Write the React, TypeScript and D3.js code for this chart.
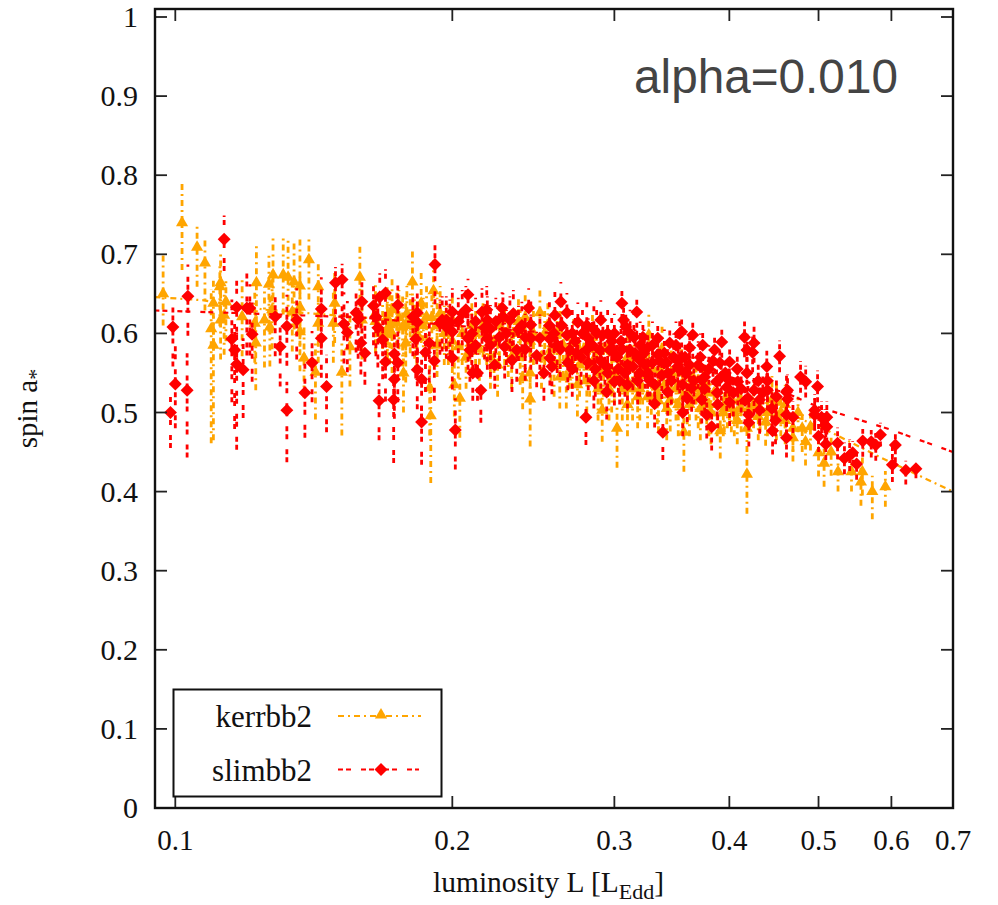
import React from "react";
import * as d3 from "d3";

const xTicks = [0.1, 0.2, 0.3, 0.4, 0.5, 0.6, 0.7];
const yTicks = [0, 0.1, 0.2, 0.3, 0.4, 0.5, 0.6, 0.7, 0.8, 0.9, 1];
const yTickText = ["0", "0.1", "0.2", "0.3", "0.4", "0.5", "0.6", "0.7", "0.8", "0.9", "1"];

// trend lines [L, a]
const kerrTrend = [[0.0949, 0.646], [0.107, 0.642], [0.125, 0.63], [0.16, 0.62], [0.2, 0.61], [0.25, 0.595], [0.3, 0.57], [0.36, 0.545], [0.42, 0.52], [0.51, 0.478], [0.582, 0.444], [0.7, 0.4]];
const slimTrend = [[0.0949, 0.629], [0.115, 0.626], [0.16, 0.62], [0.2, 0.61], [0.26, 0.6], [0.32, 0.575], [0.4, 0.545], [0.46, 0.525], [0.5, 0.507], [0.6, 0.478], [0.7, 0.45]];

// [L, a, errLow, errHigh]
const kerrLeft = [
  [0.097, 0.65, 0.04, 0.05], [0.1017, 0.74, 0.06, 0.05], [0.1056, 0.709, 0.05, 0.03], [0.1077, 0.689, 0.06, 0.03],
  [0.1094, 0.606, 0.145, 0.05], [0.11, 0.585, 0.12, 0.04], [0.112, 0.664, 0.04, 0.04], [0.1118, 0.659, 0.05, 0.03],
  [0.11, 0.638, 0.06, 0.03], [0.1135, 0.64, 0.05, 0.03], [0.112, 0.617, 0.05, 0.04], [0.113, 0.623, 0.05, 0.03],
  [0.1225, 0.664, 0.05, 0.05], [0.1264, 0.662, 0.06, 0.04], [0.1277, 0.674, 0.05, 0.05], [0.131, 0.674, 0.05, 0.05],
  [0.1326, 0.671, 0.05, 0.05], [0.1346, 0.665, 0.06, 0.05], [0.1366, 0.66, 0.05, 0.06], [0.1397, 0.693, 0.05, 0.03],
  [0.143, 0.659, 0.04, 0.03], [0.1182, 0.621, 0.05, 0.05], [0.122, 0.613, 0.05, 0.04], [0.1223, 0.588, 0.06, 0.04],
  [0.125, 0.617, 0.06, 0.04], [0.1267, 0.608, 0.05, 0.04], [0.1274, 0.63, 0.05, 0.04], [0.1366, 0.633, 0.05, 0.04],
  [0.134, 0.627, 0.05, 0.04], [0.1366, 0.602, 0.05, 0.04], [0.138, 0.569, 0.05, 0.04], [0.142, 0.551, 0.06, 0.04],
  [0.143, 0.613, 0.05, 0.03], [0.149, 0.638, 0.05, 0.04], [0.1485, 0.613, 0.05, 0.04], [0.1587, 0.671, 0.05, 0.04],
  [0.1517, 0.551, 0.08, 0.04], [0.1548, 0.583, 0.05, 0.04], [0.181, 0.665, 0.05, 0.04], [0.1908, 0.654, 0.05, 0.04],
  [0.185, 0.638, 0.05, 0.04], [0.189, 0.531, 0.06, 0.04], [0.1895, 0.496, 0.085, 0.04], [0.178, 0.588, 0.05, 0.04],
  [0.177, 0.55, 0.05, 0.04], [0.1875, 0.621, 0.05, 0.04], [0.171, 0.611, 0.05, 0.04], [0.174, 0.613, 0.05, 0.04],
  [0.1766, 0.608, 0.05, 0.04], [0.172, 0.63, 0.05, 0.04], [0.172, 0.6, 0.05, 0.04], [0.1595, 0.617, 0.05, 0.04],
  [0.165, 0.625, 0.04, 0.04], [0.168, 0.6, 0.04, 0.04], [0.1699, 0.62, 0.05, 0.04], [0.1785, 0.625, 0.04, 0.035],
  [0.182, 0.608, 0.04, 0.035], [0.1925, 0.61, 0.04, 0.035], [0.196, 0.6, 0.04, 0.035], [0.1925, 0.585, 0.04, 0.035],
  [0.165, 0.615, 0.04, 0.035], [0.17, 0.605, 0.04, 0.035], [0.175, 0.62, 0.04, 0.035], [0.178, 0.61, 0.04, 0.035],
  [0.18, 0.615, 0.04, 0.035], [0.183, 0.6, 0.04, 0.035], [0.186, 0.61, 0.04, 0.035], [0.19, 0.62, 0.04, 0.035],
  [0.194, 0.625, 0.04, 0.035], [0.198, 0.6, 0.04, 0.035],
];
const kerrMiddle = [
  [0.2, 0.617, 0.04, 0.03], [0.2038, 0.518, 0.05, 0.03], [0.201, 0.535, 0.04, 0.03], [0.203, 0.583, 0.04, 0.03],
  [0.205, 0.6, 0.04, 0.03], [0.21, 0.61, 0.04, 0.03], [0.214, 0.58, 0.04, 0.03], [0.218, 0.6, 0.04, 0.03],
  [0.222, 0.59, 0.04, 0.03], [0.225, 0.61, 0.04, 0.03], [0.23, 0.585, 0.04, 0.03], [0.233, 0.6, 0.04, 0.03],
  [0.237, 0.575, 0.04, 0.03], [0.237, 0.6, 0.035, 0.03], [0.243, 0.517, 0.06, 0.03], [0.243, 0.55, 0.04, 0.03],
  [0.2385, 0.544, 0.04, 0.03], [0.243, 0.59, 0.04, 0.03], [0.249, 0.626, 0.04, 0.03], [0.252, 0.6, 0.04, 0.03],
  [0.256, 0.58, 0.04, 0.03], [0.26, 0.6, 0.04, 0.03], [0.2617, 0.545, 0.04, 0.03], [0.264, 0.585, 0.04, 0.03],
  [0.268, 0.57, 0.04, 0.03], [0.271, 0.59, 0.04, 0.03], [0.2735, 0.535, 0.04, 0.03], [0.278, 0.58, 0.04, 0.03],
  [0.282, 0.56, 0.04, 0.03], [0.286, 0.57, 0.04, 0.03], [0.291, 0.503, 0.04, 0.03], [0.29, 0.55, 0.04, 0.03],
  [0.295, 0.58, 0.04, 0.03], [0.298, 0.54, 0.04, 0.03], [0.302, 0.48, 0.05, 0.03], [0.304, 0.56, 0.04, 0.03],
  [0.31, 0.51, 0.04, 0.03], [0.31, 0.54, 0.04, 0.03], [0.315, 0.57, 0.04, 0.03], [0.3197, 0.53, 0.04, 0.03],
  [0.322, 0.55, 0.04, 0.03], [0.327, 0.598, 0.03, 0.03], [0.329, 0.537, 0.04, 0.03], [0.334, 0.525, 0.04, 0.03],
  [0.336, 0.555, 0.04, 0.03], [0.34, 0.535, 0.03, 0.03], [0.345, 0.516, 0.04, 0.03], [0.35, 0.53, 0.04, 0.03],
  [0.355, 0.55, 0.035, 0.03], [0.357, 0.475, 0.05, 0.03], [0.36, 0.525, 0.04, 0.03], [0.365, 0.545, 0.03, 0.03],
  [0.37, 0.52, 0.04, 0.03], [0.375, 0.535, 0.03, 0.03], [0.38, 0.51, 0.04, 0.03], [0.385, 0.525, 0.03, 0.03],
  [0.2, 0.59, 0.04, 0.03], [0.207, 0.57, 0.04, 0.03], [0.21, 0.59, 0.04, 0.03], [0.212, 0.6, 0.04, 0.03],
  [0.216, 0.61, 0.04, 0.03], [0.22, 0.57, 0.04, 0.03], [0.224, 0.56, 0.04, 0.03], [0.228, 0.6, 0.04, 0.03],
  [0.232, 0.57, 0.04, 0.03], [0.236, 0.615, 0.04, 0.03], [0.24, 0.62, 0.04, 0.03], [0.245, 0.6, 0.04, 0.03],
  [0.25, 0.57, 0.04, 0.03], [0.254, 0.61, 0.04, 0.03], [0.258, 0.56, 0.04, 0.03], [0.262, 0.6, 0.04, 0.03],
  [0.266, 0.545, 0.04, 0.03], [0.27, 0.57, 0.04, 0.03], [0.275, 0.56, 0.04, 0.03], [0.28, 0.54, 0.04, 0.03],
  [0.284, 0.595, 0.04, 0.03], [0.288, 0.53, 0.04, 0.03], [0.292, 0.56, 0.04, 0.03], [0.296, 0.53, 0.04, 0.03],
  [0.3, 0.55, 0.04, 0.03], [0.306, 0.53, 0.04, 0.03], [0.31, 0.57, 0.04, 0.03], [0.314, 0.53, 0.04, 0.03],
  [0.318, 0.52, 0.04, 0.03], [0.322, 0.57, 0.04, 0.03], [0.326, 0.52, 0.04, 0.03], [0.33, 0.555, 0.04, 0.03],
  [0.335, 0.515, 0.04, 0.03], [0.338, 0.58, 0.04, 0.03], [0.342, 0.505, 0.04, 0.03], [0.346, 0.55, 0.04, 0.03],
  [0.352, 0.51, 0.04, 0.03], [0.356, 0.52, 0.04, 0.03], [0.362, 0.51, 0.04, 0.03], [0.368, 0.53, 0.04, 0.03],
  [0.372, 0.505, 0.04, 0.03], [0.378, 0.525, 0.04, 0.03], [0.382, 0.5, 0.04, 0.03], [0.388, 0.51, 0.04, 0.03],
];
const kerrRight = [
  [0.391, 0.477, 0.035, 0.025], [0.395, 0.505, 0.03, 0.025], [0.4, 0.52, 0.03, 0.025], [0.405, 0.5, 0.03, 0.025],
  [0.41, 0.515, 0.03, 0.025], [0.418, 0.422, 0.05, 0.025], [0.418, 0.48, 0.03, 0.025], [0.42, 0.505, 0.03, 0.025],
  [0.43, 0.495, 0.03, 0.025], [0.438, 0.488, 0.03, 0.025], [0.445, 0.516, 0.025, 0.03], [0.45, 0.513, 0.025, 0.025],
  [0.455, 0.5, 0.03, 0.02], [0.469, 0.48, 0.03, 0.025], [0.469, 0.468, 0.03, 0.025], [0.475, 0.5, 0.025, 0.02],
  [0.484, 0.463, 0.03, 0.02], [0.49, 0.482, 0.03, 0.02], [0.5, 0.449, 0.03, 0.02], [0.507, 0.436, 0.03, 0.02],
  [0.516, 0.45, 0.03, 0.02], [0.525, 0.425, 0.025, 0.02], [0.543, 0.425, 0.025, 0.02], [0.558, 0.425, 0.03, 0.02],
  [0.556, 0.412, 0.03, 0.02], [0.572, 0.4, 0.035, 0.02], [0.591, 0.406, 0.025, 0.02],
  [0.394, 0.5, 0.03, 0.025], [0.398, 0.51, 0.03, 0.025], [0.402, 0.505, 0.03, 0.025], [0.408, 0.49, 0.03, 0.025],
  [0.412, 0.505, 0.03, 0.025], [0.425, 0.51, 0.03, 0.025], [0.432, 0.505, 0.03, 0.025], [0.44, 0.5, 0.03, 0.025],
  [0.45, 0.495, 0.03, 0.025], [0.46, 0.49, 0.03, 0.025], [0.46, 0.51, 0.03, 0.025], [0.48, 0.48, 0.03, 0.02],
];

const slimLeft = [
  [0.113, 0.719, 0.04, 0.03], [0.1032, 0.647, 0.05, 0.04], [0.0994, 0.608, 0.05, 0.03], [0.1, 0.536, 0.056, 0.055],
  [0.103, 0.528, 0.085, 0.047], [0.0988, 0.5, 0.045, 0.02], [0.1166, 0.633, 0.07, 0.04], [0.1196, 0.632, 0.06, 0.05],
  [0.1205, 0.632, 0.06, 0.03], [0.1152, 0.593, 0.08, 0.05], [0.116, 0.579, 0.1, 0.04], [0.1166, 0.561, 0.108, 0.04],
  [0.1212, 0.599, 0.06, 0.04], [0.1185, 0.554, 0.061, 0.04], [0.1284, 0.621, 0.05, 0.03], [0.1322, 0.609, 0.05, 0.04],
  [0.1355, 0.617, 0.05, 0.04], [0.13, 0.583, 0.05, 0.04], [0.1322, 0.503, 0.066, 0.036], [0.1383, 0.525, 0.057, 0.04],
  [0.1408, 0.563, 0.05, 0.04], [0.146, 0.533, 0.058, 0.04], [0.1441, 0.631, 0.05, 0.04], [0.1441, 0.594, 0.05, 0.04],
  [0.1493, 0.664, 0.05, 0.02], [0.1518, 0.668, 0.05, 0.02], [0.1525, 0.612, 0.05, 0.04], [0.1538, 0.601, 0.05, 0.04],
  [0.1591, 0.588, 0.04, 0.04], [0.1607, 0.575, 0.04, 0.04], [0.1595, 0.64, 0.05, 0.03], [0.1572, 0.626, 0.05, 0.03],
  [0.158, 0.618, 0.05, 0.03], [0.1642, 0.635, 0.05, 0.03], [0.1652, 0.621, 0.05, 0.03], [0.166, 0.607, 0.05, 0.03],
  [0.1668, 0.646, 0.04, 0.03], [0.1692, 0.651, 0.04, 0.03], [0.1745, 0.636, 0.05, 0.03], [0.168, 0.592, 0.05, 0.03],
  [0.1692, 0.564, 0.05, 0.03], [0.173, 0.574, 0.05, 0.03], [0.1745, 0.563, 0.05, 0.03], [0.173, 0.542, 0.05, 0.03],
  [0.1665, 0.515, 0.05, 0.022], [0.1727, 0.516, 0.08, 0.03], [0.1825, 0.593, 0.05, 0.03], [0.1812, 0.621, 0.05, 0.03],
  [0.1832, 0.626, 0.05, 0.03], [0.1832, 0.614, 0.05, 0.03], [0.1832, 0.554, 0.05, 0.03], [0.1852, 0.542, 0.05, 0.03],
  [0.1852, 0.488, 0.054, 0.03], [0.1915, 0.687, 0.05, 0.03], [0.1888, 0.588, 0.05, 0.03], [0.187, 0.576, 0.05, 0.03],
  [0.1912, 0.565, 0.05, 0.03], [0.1939, 0.613, 0.04, 0.03], [0.197, 0.617, 0.04, 0.03], [0.197, 0.608, 0.04, 0.03],
  [0.1988, 0.613, 0.04, 0.03], [0.195, 0.617, 0.04, 0.03],
];
const slimMiddle = [
  [0.208, 0.649, 0.04, 0.02], [0.2, 0.627, 0.04, 0.03], [0.2, 0.602, 0.04, 0.03], [0.208, 0.594, 0.04, 0.03],
  [0.209, 0.579, 0.04, 0.03], [0.2, 0.569, 0.04, 0.03], [0.2105, 0.55, 0.035, 0.025], [0.213, 0.55, 0.035, 0.025],
  [0.2148, 0.528, 0.041, 0.025], [0.2015, 0.478, 0.05, 0.04], [0.2224, 0.56, 0.03, 0.03], [0.2069, 0.63, 0.04, 0.03],
  [0.2154, 0.627, 0.04, 0.03], [0.2183, 0.617, 0.04, 0.03], [0.2168, 0.607, 0.04, 0.03], [0.2183, 0.594, 0.04, 0.03],
  [0.2265, 0.632, 0.04, 0.02], [0.227, 0.621, 0.04, 0.03], [0.231, 0.617, 0.04, 0.03], [0.229, 0.6, 0.04, 0.03],
  [0.228, 0.583, 0.04, 0.03], [0.2322, 0.566, 0.04, 0.03], [0.235, 0.579, 0.04, 0.03], [0.2421, 0.632, 0.035, 0.025],
  [0.2434, 0.611, 0.035, 0.03], [0.2434, 0.594, 0.04, 0.03], [0.249, 0.594, 0.04, 0.03], [0.2553, 0.593, 0.04, 0.03],
  [0.2585, 0.623, 0.035, 0.03], [0.2624, 0.64, 0.035, 0.025], [0.2664, 0.626, 0.035, 0.025], [0.2553, 0.569, 0.035, 0.03],
  [0.2566, 0.558, 0.035, 0.03], [0.2515, 0.55, 0.035, 0.03], [0.2738, 0.614, 0.035, 0.025], [0.2664, 0.598, 0.035, 0.025],
  [0.2684, 0.579, 0.035, 0.025], [0.267, 0.563, 0.035, 0.025], [0.29, 0.617, 0.035, 0.025], [0.2915, 0.598, 0.035, 0.025],
  [0.3, 0.6, 0.035, 0.025], [0.3057, 0.638, 0.03, 0.02], [0.3173, 0.627, 0.03, 0.02], [0.307, 0.617, 0.03, 0.02],
  [0.3087, 0.608, 0.03, 0.02], [0.2798, 0.579, 0.035, 0.025], [0.281, 0.594, 0.035, 0.025], [0.2893, 0.579, 0.035, 0.025],
  [0.2966, 0.579, 0.035, 0.025], [0.281, 0.563, 0.035, 0.025], [0.2943, 0.526, 0.035, 0.025], [0.2794, 0.494, 0.035, 0.02],
  [0.3, 0.539, 0.03, 0.025], [0.3118, 0.579, 0.03, 0.025], [0.3222, 0.595, 0.03, 0.025], [0.3344, 0.594, 0.03, 0.025],
  [0.326, 0.582, 0.03, 0.025], [0.3197, 0.566, 0.03, 0.025], [0.3344, 0.573, 0.03, 0.025], [0.3142, 0.558, 0.03, 0.025],
  [0.3197, 0.55, 0.03, 0.025], [0.33, 0.563, 0.03, 0.025], [0.3378, 0.547, 0.03, 0.025], [0.3318, 0.511, 0.03, 0.025],
  [0.3387, 0.475, 0.035, 0.02], [0.3428, 0.526, 0.03, 0.025], [0.3446, 0.588, 0.03, 0.025], [0.3533, 0.6, 0.03, 0.02],
  [0.365, 0.598, 0.03, 0.02], [0.3742, 0.585, 0.03, 0.02], [0.3623, 0.582, 0.03, 0.02], [0.342, 0.563, 0.03, 0.025],
  [0.3533, 0.554, 0.03, 0.025], [0.3595, 0.55, 0.03, 0.025], [0.364, 0.531, 0.03, 0.025], [0.356, 0.5, 0.03, 0.025],
  [0.378, 0.497, 0.03, 0.025], [0.376, 0.545, 0.03, 0.025], [0.36, 0.518, 0.03, 0.025], [0.22, 0.606, 0.04, 0.03],
  [0.238, 0.61, 0.04, 0.03], [0.24, 0.58, 0.04, 0.03], [0.247, 0.572, 0.04, 0.03], [0.262, 0.58, 0.035, 0.03],
  [0.272, 0.59, 0.035, 0.03], [0.276, 0.57, 0.035, 0.03], [0.285, 0.605, 0.035, 0.03], [0.286, 0.555, 0.035, 0.03],
  [0.293, 0.56, 0.035, 0.03], [0.302, 0.57, 0.03, 0.03], [0.305, 0.59, 0.03, 0.03], [0.308, 0.55, 0.03, 0.03],
  [0.315, 0.595, 0.03, 0.03], [0.324, 0.56, 0.03, 0.03], [0.328, 0.54, 0.03, 0.03], [0.348, 0.57, 0.03, 0.03],
  [0.203, 0.615, 0.04, 0.03], [0.205, 0.625, 0.04, 0.03], [0.21, 0.6, 0.04, 0.03], [0.212, 0.615, 0.04, 0.03],
  [0.212, 0.585, 0.04, 0.03], [0.218, 0.63, 0.04, 0.03], [0.22, 0.585, 0.04, 0.03], [0.223, 0.615, 0.04, 0.03],
  [0.225, 0.595, 0.04, 0.03], [0.233, 0.625, 0.04, 0.03], [0.236, 0.605, 0.04, 0.03], [0.24, 0.595, 0.04, 0.03],
  [0.255, 0.61, 0.035, 0.03], [0.258, 0.6, 0.035, 0.03], [0.26, 0.585, 0.035, 0.03], [0.263, 0.61, 0.035, 0.03],
  [0.27, 0.6, 0.035, 0.03], [0.273, 0.575, 0.035, 0.03], [0.277, 0.6, 0.035, 0.03], [0.28, 0.61, 0.035, 0.03],
  [0.284, 0.585, 0.035, 0.03], [0.287, 0.6, 0.035, 0.03], [0.29, 0.565, 0.035, 0.03], [0.295, 0.6, 0.035, 0.03],
  [0.298, 0.59, 0.035, 0.03], [0.3, 0.575, 0.035, 0.03], [0.303, 0.555, 0.03, 0.03], [0.306, 0.58, 0.03, 0.03],
  [0.31, 0.56, 0.03, 0.03], [0.312, 0.6, 0.03, 0.03], [0.316, 0.575, 0.03, 0.03], [0.318, 0.54, 0.03, 0.03],
  [0.32, 0.585, 0.03, 0.03], [0.323, 0.575, 0.03, 0.03], [0.326, 0.55, 0.03, 0.03], [0.33, 0.585, 0.03, 0.03],
  [0.332, 0.535, 0.03, 0.03], [0.336, 0.565, 0.03, 0.03], [0.34, 0.575, 0.03, 0.03], [0.343, 0.55, 0.03, 0.03],
  [0.346, 0.54, 0.03, 0.03], [0.35, 0.585, 0.03, 0.03], [0.352, 0.565, 0.03, 0.03], [0.356, 0.535, 0.03, 0.03],
  [0.358, 0.57, 0.03, 0.03], [0.362, 0.56, 0.03, 0.03], [0.366, 0.54, 0.03, 0.03], [0.37, 0.56, 0.03, 0.03],
  [0.372, 0.57, 0.03, 0.03], [0.376, 0.53, 0.03, 0.03], [0.38, 0.555, 0.03, 0.03], [0.31, 0.535, 0.03, 0.03],
  [0.295, 0.55, 0.03, 0.03], [0.27, 0.555, 0.035, 0.03], [0.285, 0.54, 0.035, 0.03], [0.304, 0.54, 0.03, 0.03],
];
const slimRight = [
  [0.3925, 0.589, 0.03, 0.025], [0.4155, 0.595, 0.025, 0.02], [0.4255, 0.588, 0.025, 0.025], [0.418, 0.579, 0.025, 0.025],
  [0.4536, 0.571, 0.02, 0.02], [0.4393, 0.558, 0.025, 0.02], [0.418, 0.55, 0.025, 0.02], [0.355, 0.602, 0.03, 0.025],
  [0.3855, 0.579, 0.03, 0.02], [0.4003, 0.564, 0.03, 0.02], [0.3905, 0.563, 0.03, 0.02], [0.3515, 0.558, 0.03, 0.025],
  [0.358, 0.551, 0.03, 0.025], [0.3733, 0.541, 0.03, 0.025], [0.3874, 0.539, 0.03, 0.025], [0.4085, 0.539, 0.03, 0.025],
  [0.3974, 0.532, 0.03, 0.025], [0.4255, 0.528, 0.03, 0.025], [0.44, 0.528, 0.025, 0.025], [0.4615, 0.526, 0.025, 0.025],
  [0.4315, 0.516, 0.03, 0.025], [0.419, 0.518, 0.03, 0.025], [0.4003, 0.513, 0.03, 0.025], [0.3885, 0.51, 0.03, 0.025],
  [0.4315, 0.503, 0.03, 0.025], [0.3827, 0.482, 0.03, 0.02], [0.42, 0.497, 0.03, 0.025], [0.42, 0.487, 0.03, 0.025],
  [0.449, 0.49, 0.03, 0.02], [0.4457, 0.477, 0.03, 0.02], [0.4615, 0.497, 0.025, 0.02], [0.4615, 0.468, 0.025, 0.02],
  [0.3733, 0.516, 0.03, 0.025], [0.424, 0.576, 0.025, 0.02], [0.478, 0.545, 0.02, 0.02], [0.4842, 0.539, 0.02, 0.02],
  [0.4988, 0.533, 0.02, 0.02], [0.4627, 0.528, 0.02, 0.02], [0.4627, 0.517, 0.02, 0.02], [0.4952, 0.503, 0.02, 0.02],
  [0.4952, 0.497, 0.02, 0.02], [0.5038, 0.494, 0.02, 0.02], [0.5105, 0.494, 0.02, 0.02], [0.508, 0.484, 0.02, 0.02],
  [0.5105, 0.482, 0.02, 0.02], [0.5, 0.47, 0.02, 0.02], [0.5092, 0.46, 0.02, 0.02], [0.469, 0.494, 0.02, 0.02],
  [0.5244, 0.461, 0.02, 0.02], [0.5585, 0.464, 0.02, 0.015], [0.5705, 0.463, 0.02, 0.015], [0.577, 0.459, 0.02, 0.015],
  [0.5838, 0.472, 0.015, 0.015], [0.606, 0.459, 0.022, 0.015], [0.6015, 0.434, 0.022, 0.03], [0.622, 0.427, 0.018, 0.012],
  [0.638, 0.429, 0.012, 0.01], [0.5335, 0.442, 0.02, 0.02], [0.5405, 0.446, 0.02, 0.02], [0.5446, 0.449, 0.015, 0.015],
  [0.55, 0.435, 0.02, 0.015],
  [0.384, 0.565, 0.03, 0.025], [0.388, 0.525, 0.03, 0.025], [0.392, 0.545, 0.03, 0.025], [0.396, 0.55, 0.03, 0.025],
  [0.4, 0.54, 0.03, 0.025], [0.404, 0.525, 0.03, 0.025], [0.408, 0.555, 0.03, 0.025], [0.412, 0.53, 0.03, 0.025],
  [0.416, 0.515, 0.03, 0.025], [0.43, 0.54, 0.025, 0.025], [0.435, 0.525, 0.025, 0.025], [0.44, 0.54, 0.025, 0.025],
  [0.445, 0.505, 0.025, 0.025], [0.45, 0.52, 0.025, 0.025],
];

const kerrbb2 = [...kerrLeft, ...kerrMiddle, ...kerrRight];
const slimbb2 = [...slimLeft, ...slimMiddle, ...slimRight];

const ORANGE = "#ffa500";
const RED = "#ff0000";
const ORANGE_DASH = "6 4 2 4";
const RED_DASH = "5 3 5 10";

const W = 998, H = 905;
const L = 155, R = 953, T = 9, B = 808;

export default function App() {
  const x = d3.scaleLog().domain([0.1, 0.7]).range([175.3, 953]);
  const y = d3.scaleLinear().domain([0, 1]).range([808, 17]);
  const line = d3.line<number[]>().x((d) => x(d[0])).y((d) => y(d[1]));
  const tri = d3.symbol().type(d3.symbolTriangle).size(64)() as string;
  const dia = d3.symbol().type(d3.symbolSquare).size(84)() as string;
  const serif = "'Liberation Serif', serif";
  const tickColor = "#222";

  const series = (
    data: number[][],
    trend: number[][],
    color: string,
    dash: string,
    mark: (d: number[], i: number) => React.ReactNode,
  ) => (
    <g>
      <path d={line(trend) as string} fill="none" stroke={color} strokeWidth={2.2} strokeDasharray={dash} />
      {data.map((d, i) => (
        <line key={i} x1={x(d[0])} x2={x(d[0])} y1={y(d[1] - d[2])} y2={y(d[1] + d[3])} stroke={color} strokeWidth={2.8} strokeDasharray={dash} />
      ))}
      {data.map(mark)}
    </g>
  );

  return (
    <svg width={W} height={H} style={{ position: "absolute", left: 0, top: 0, background: "#fff" }}>
      <defs>
        <clipPath id="plot"><rect x={L} y={T} width={R - L} height={B - T} /></clipPath>
      </defs>
      <g clipPath="url(#plot)">
        {series(kerrbb2, kerrTrend, ORANGE, ORANGE_DASH, (d, i) => (
          <path key={i} d={tri} fill={ORANGE} transform={`translate(${x(d[0])},${y(d[1])})`} />
        ))}
        {series(slimbb2, slimTrend, RED, RED_DASH, (d, i) => (
          <path key={i} d={dia} fill={RED} transform={`translate(${x(d[0])},${y(d[1])}) rotate(45)`} />
        ))}
      </g>

      {yTicks.map((t, i) => (
        <g key={t}>
          <line x1={L} x2={L + 12} y1={y(t)} y2={y(t)} stroke={tickColor} strokeWidth={1.8} />
          <line x1={R - 12} x2={R} y1={y(t)} y2={y(t)} stroke={tickColor} strokeWidth={1.8} />
          <text x={138} y={y(t) + 10} textAnchor="end" fontFamily={serif} fontSize={30} fill="#111">{yTickText[i]}</text>
        </g>
      ))}
      {xTicks.map((t) => (
        <g key={t}>
          <line x1={x(t)} x2={x(t)} y1={B} y2={B - 12} stroke={tickColor} strokeWidth={1.8} />
          <line x1={x(t)} x2={x(t)} y1={T} y2={T + 12} stroke={tickColor} strokeWidth={1.8} />
          <text x={x(t)} y={850} textAnchor="middle" fontFamily={serif} fontSize={29} fill="#111">{t}</text>
        </g>
      ))}
      <rect x={L} y={T} width={R - L} height={B - T} fill="none" stroke="#111" strokeWidth={2.4} />

      <text x={766} y={93} textAnchor="middle" fontFamily="'Liberation Sans', sans-serif" fontSize={47.7} fill="#444">alpha=0.010</text>

      <text x={433} y={892} fontFamily={serif} fontSize={29.5} fill="#111">
        luminosity L [L<tspan dy={7} fontSize={22}>Edd</tspan><tspan dy={-7}>]</tspan>
      </text>
      <text transform="translate(37,408.5) rotate(-90)" textAnchor="middle" fontFamily={serif} fontSize={29} fill="#111">
        spin a<tspan dy={6} fontSize={22}>*</tspan>
      </text>

      <rect x={173.5} y={689.5} width={268} height={107} fill="#fff" stroke="#111" strokeWidth={2} />
      <text x={312} y={727} textAnchor="end" fontFamily={serif} fontSize={31} fill="#111">kerrbb2</text>
      <text x={312} y={781} textAnchor="end" fontFamily={serif} fontSize={31} fill="#111">slimbb2</text>
      <line x1={338} x2={421} y1={716} y2={716} stroke={ORANGE} strokeWidth={2} strokeDasharray={ORANGE_DASH} />
      <path d={tri} fill={ORANGE} transform="translate(381,715)" />
      <line x1={338} x2={419} y1={769.5} y2={769.5} stroke={RED} strokeWidth={2} strokeDasharray={RED_DASH} />
      <path d={dia} fill={RED} transform="translate(381,769.5) rotate(45)" />
    </svg>
  );
}
